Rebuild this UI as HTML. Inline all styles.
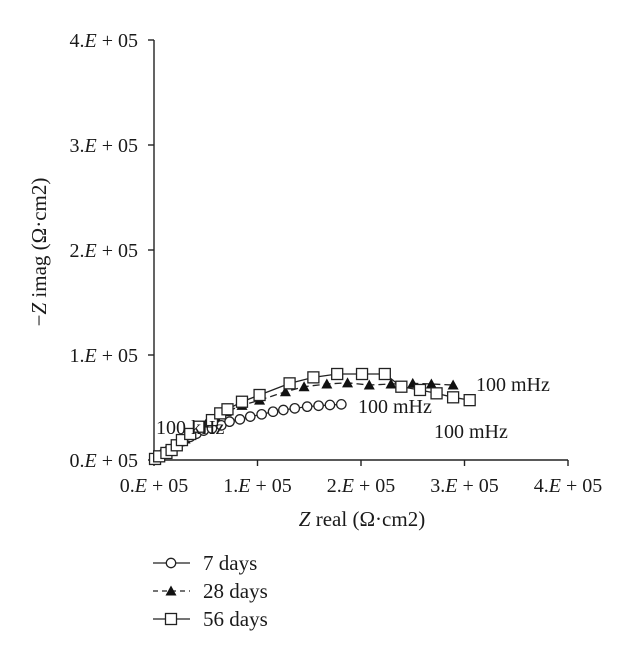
<!DOCTYPE html>
<html><head><meta charset="utf-8"><style>
body{margin:0;background:#fff;}
svg text{font-family:"Liberation Serif",serif;fill:#1a1a1a;}
</style></head><body>
<svg width="642" height="660" viewBox="0 0 642 660">
<g id="axes"></g><g id="series"></g><g id="labels"></g><g id="legend"></g>
</svg>
<script>
const xTicks=[0,1e5,2e5,3e5,4e5];
const yTicks=[0,1e5,2e5,3e5,4e5];
const tickLabels=["0.","1.","2.","3.","4."];
const d7x=[1,3,6,10,15,21,28,35,41,48,56,65,73,83,93,104,115,125,136,148,159,170,181];
const d7y=[1,2,4,7,10,14,18,22,25,28,30,33,36.5,38.7,41.3,43.5,46,47.6,49.2,50.8,51.7,52.4,53];
const d28x=[1,2,6,12,20,30,40,50,60,70,85,102,127,145,167,187,208,229,250,268,289];
const d28y=[1,2,4,8,13,20,27,34,40,46,52,57,65,69.8,72.4,73.5,71.4,72.4,73,72.4,71.4];
const d56x=[1,5,12,17,22,27,35,44,56,64,71,85,102,131,154,177,201,223,239,257,273,289,305];
const d56y=[1,3.5,6.7,9.5,14,19,24.8,31.7,38,44.4,48.3,55.5,61.9,73,78.7,81.9,81.9,81.9,69.8,66.7,63.5,59.7,57];
const NS="http://www.w3.org/2000/svg";
const X=v=>154+v*103.5/1e5, Y=v=>460-v*105/1e5;
function mk(p,t,a){const e=document.createElementNS(NS,t);for(const k in a)e.setAttribute(k,a[k]);p.appendChild(e);return e;}
const ax=document.getElementById('axes');
let e=mk(ax,'line',{x1:X(0),y1:Y(0),x2:X(4e5),y2:Y(0),stroke:'#222','stroke-width':1.4});

e=mk(ax,'line',{x1:X(0),y1:Y(0),x2:X(0),y2:Y(4e5),stroke:'#222','stroke-width':1.4});

xTicks.forEach((v,i)=>{
 mk(ax,'line',{x1:X(v),y1:Y(0),x2:X(v),y2:Y(0)+6,stroke:'#222','stroke-width':1.4});
 const t=mk(ax,'text',{x:X(v),y:492,'text-anchor':'middle','font-size':20});
 
 t.innerHTML=tickLabels[i]+'<tspan font-style="italic">E</tspan> + 05';
});
yTicks.forEach((v,i)=>{
 mk(ax,'line',{x1:X(0)-6,y1:Y(v),x2:X(0),y2:Y(v),stroke:'#222','stroke-width':1.4});
 const t=mk(ax,'text',{x:138,y:Y(v)+7,'text-anchor':'end','font-size':20});
 
 t.innerHTML=tickLabels[i]+'<tspan font-style="italic">E</tspan> + 05';
});
e=mk(ax,'text',{x:362,y:526,'text-anchor':'middle','font-size':21});

e.innerHTML='<tspan font-style="italic">Z</tspan> real (Ω·cm2)';
e=mk(ax,'text',{x:0,y:0,'text-anchor':'middle','font-size':21,transform:'translate(46,252) rotate(-90)'});

e.innerHTML='−<tspan font-style="italic">Z</tspan> imag (Ω·cm2)';
const sg=document.getElementById('series');
function marker(g,type,cx,cy){
 if(type==='c')return mk(g,'circle',{cx,cy,r:4.7,fill:'#fff',stroke:'#222','stroke-width':1.3});
 if(type==='t')return mk(g,'polygon',{points:`${cx},${cy-5.5} ${cx-5.5},${cy+4.5} ${cx+5.5},${cy+4.5}`,fill:'#111'});
 return mk(g,'rect',{x:cx-5.5,y:cy-5.5,width:11,height:11,fill:'#fff',stroke:'#222','stroke-width':1.3});
}
function series(xs,ys,type,dash,name){
 const g=mk(sg,'g',{});
 const pts=xs.map((v,i)=>X(v*1000)+','+Y(ys[i]*1000)).join(' ');
 const l=mk(g,'polyline',{points:pts,fill:'none',stroke:'#222','stroke-width':1.3,'stroke-dasharray':dash});
 
 xs.forEach((v,i)=>{const m=marker(g,type,X(v*1000),Y(ys[i]*1000));
  });
}
series(d28x,d28y,'t','7,4','series-28-days');
series(d7x,d7y,'c','none','series-7-days');
series(d56x,d56y,'s','none','series-56-days');
const lb=document.getElementById('labels');
[[156,434,'100 kHz'],[358,413,'100 mHz'],[476,391,'100 mHz'],[434,438,'100 mHz']].forEach(a=>{
 const t=mk(lb,'text',{x:a[0],y:a[1],'font-size':20});t.textContent=a[2];
 });
const lg=document.getElementById('legend');
[['c','none','7 days',563],['t','5,4','28 days',591],['s','none','56 days',619]].forEach(a=>{
 const g=mk(lg,'g',{});
 mk(g,'line',{x1:153,y1:a[3],x2:190,y2:a[3],stroke:'#222','stroke-width':1.3,'stroke-dasharray':a[1]});
 marker(g,a[0],171,a[3]);
 const t=mk(g,'text',{x:203,y:a[3]+7,'font-size':21});t.textContent=a[2];
});
</script>
</body></html>
